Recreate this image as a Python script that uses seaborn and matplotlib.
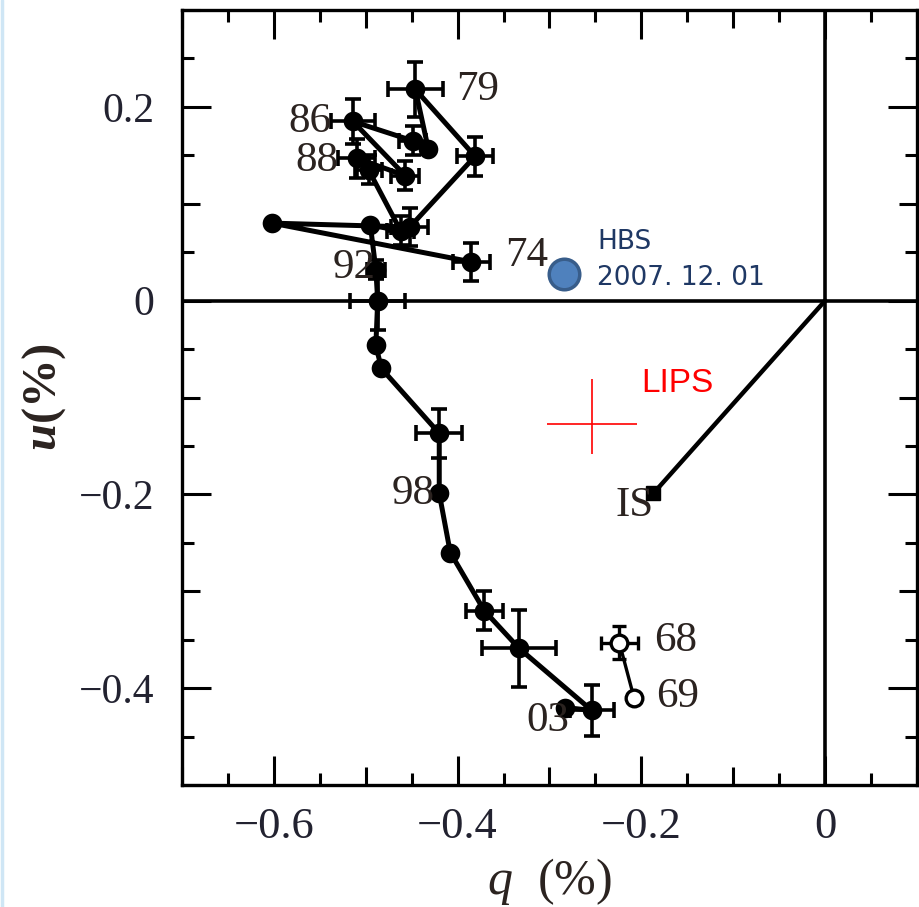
import numpy as np
import pandas as pd
import matplotlib
matplotlib.use("Agg")
import matplotlib.pyplot as plt
from matplotlib.lines import Line2D
import seaborn as sns

# ---------------- data ----------------
# main (filled) trajectory, q and u in %
path_q = [-0.385, -0.602, -0.452, -0.381, -0.446, -0.432, -0.449, -0.514, -0.457,
          -0.510, -0.497, -0.462, -0.495, -0.489, -0.487, -0.489, -0.483, -0.420,
          -0.420, -0.408, -0.371, -0.333, -0.254, -0.283]
path_u = [0.040, 0.080, 0.076, 0.149, 0.218, 0.157, 0.165, 0.185, 0.129,
          0.147, 0.135, 0.072, 0.078, 0.032, 0.000, -0.046, -0.070, -0.137,
          -0.199, -0.260, -0.320, -0.359, -0.423, -0.420]
path_qerr = [0.020, 0.0, 0.020, 0.020, 0.030, 0.0, 0.015, 0.024, 0.015,
             0.020, 0.015, 0.015, 0.0, 0.010, 0.030, 0.0, 0.0, 0.025,
             0.0, 0.0, 0.020, 0.040, 0.024, 0.0]
path_uerr = [0.020, 0.0, 0.020, 0.020, 0.028, 0.0, 0.015, 0.023, 0.015,
             0.020, 0.015, 0.015, 0.0, 0.010, 0.030, 0.0, 0.0, 0.025,
             0.0, 0.0, 0.020, 0.040, 0.026, 0.0]

# early (open) points 1968, 1969
open_q = [-0.224, -0.208]
open_u = [-0.353, -0.410]
open_qerr = [0.020, 0.0]
open_uerr = [0.017, 0.0]

# year labels
year_labels = ["79", "86", "88", "74", "92", "98", "68", "69", "03"]
year_q = [-0.402, -0.537, -0.530, -0.348, -0.489, -0.425, -0.186, -0.184, -0.278]
year_u = [0.218, 0.185, 0.144, 0.046, 0.034, -0.199, -0.351, -0.409, -0.434]
year_ha = ["left", "right", "right", "left", "right", "right", "left", "left", "right"]

# interstellar
is_q = [0.0, -0.187]
is_u = [0.0, -0.199]

# HBS observation
hbs_q = [-0.284]
hbs_u = [0.027]
hbs_text = ["HBS", "2007. 12. 01"]

# LIPS
lips_q = [-0.254]
lips_u = [-0.127]
lips_qerr = [0.049]
lips_uerr_low = [0.031]
lips_uerr_high = [0.046]

xtick_vals = [-0.6, -0.4, -0.2, 0.0]
xtick_labels = ["\u22120.6", "\u22120.4", "\u22120.2", "0"]
ytick_vals = [0.2, 0.0, -0.2, -0.4]
ytick_labels = ["0.2", "0", "\u22120.2", "\u22120.4"]

# ---------------- style ----------------
sns.set_theme(style="ticks")
plt.rcParams["font.family"] = ["Liberation Serif", "DejaVu Serif"]
plt.rcParams["mathtext.fontset"] = "custom"
plt.rcParams["mathtext.rm"] = "Liberation Serif"
plt.rcParams["mathtext.it"] = "Liberation Serif:italic"
plt.rcParams["mathtext.bf"] = "Liberation Serif:bold"
plt.rcParams["mathtext.bfit"] = "Liberation Serif:italic:bold"

fig = plt.figure(figsize=(9.2, 9.07), dpi=100)
fig.patch.set_facecolor("white")
ax = fig.add_axes([182 / 920, 1 - 785 / 907, (917 - 182) / 920, (785 - 10) / 907])

ax.set_xlim(-0.7, 0.1)
ax.set_ylim(-0.5, 0.3)

# reference axes lines
ax.axhline(0, color="black", lw=2.6, zorder=1)
ax.axvline(0, color="black", lw=2.6, zorder=1)

# interstellar line
df_is = pd.DataFrame({"q": is_q, "u": is_u})
sns.lineplot(data=df_is, x="q", y="u", sort=False, estimator=None, color="black",
             lw=3.2, ax=ax, zorder=2)
ax.plot(is_q[1:], is_u[1:], marker="s", ms=10, color="black", ls="none", zorder=3)

# main trajectory
df_path = pd.DataFrame({"q": path_q, "u": path_u})
sns.lineplot(data=df_path, x="q", y="u", sort=False, estimator=None, color="black",
             lw=3.6, ax=ax, zorder=3)
ax.errorbar(path_q, path_u, xerr=path_qerr, yerr=path_uerr, fmt="none",
            ecolor="black", elinewidth=2.6, capsize=6, capthick=2.6, zorder=3)
sns.scatterplot(data=df_path, x="q", y="u", color="black", s=200, edgecolor="black",
                linewidth=0, ax=ax, zorder=4)

# open points
df_open = pd.DataFrame({"q": open_q, "u": open_u})
sns.lineplot(data=df_open, x="q", y="u", sort=False, estimator=None, color="black",
             lw=2.4, ax=ax, zorder=3)
ax.errorbar(open_q, open_u, xerr=open_qerr, yerr=open_uerr, fmt="none",
            ecolor="black", elinewidth=2.4, capsize=5, capthick=2.4, zorder=3)
ax.plot(open_q, open_u, marker="o", ms=12, mfc="white", mec="black", mew=2.4,
        ls="none", zorder=4)

# year labels
for lab, q, u, ha in zip(year_labels, year_q, year_u, year_ha):
    ax.text(q, u, lab, ha=ha, va="center", fontsize=31, color="#2b2320", zorder=5)
ax.text(-0.187, -0.212, "IS", ha="right", va="center", fontsize=31,
        color="#2b2320", zorder=5)

# HBS
ax.plot(hbs_q, hbs_u, marker="o", ms=22, mfc="#4f81bd", mec="#385d8a", mew=2.5,
        ls="none", zorder=6)
ax.text(-0.248, 0.061, hbs_text[0], ha="left", va="center", fontsize=19,
        color="#1f3864", family="DejaVu Sans", zorder=6)
ax.text(-0.248, 0.023, hbs_text[1], ha="left", va="center", fontsize=19,
        color="#1f3864", family="DejaVu Sans", zorder=6)

# LIPS
ax.errorbar(lips_q, lips_u, xerr=lips_qerr, yerr=[lips_uerr_low, lips_uerr_high],
            fmt="none", ecolor="red", elinewidth=1.2, capsize=0, zorder=6)
ax.text(-0.200, -0.086, "LIPS", ha="left", va="center", fontsize=24, color="red",
        family="Liberation Sans", zorder=6)

# axes styling
for sp in ax.spines.values():
    sp.set_visible(True)
    sp.set_linewidth(2.4)
    sp.set_color("black")

ax.set_xticks(xtick_vals, xtick_labels)
ax.set_yticks(ytick_vals, ytick_labels)
ax.xaxis.set_minor_locator(matplotlib.ticker.MultipleLocator(0.05))
ax.yaxis.set_minor_locator(matplotlib.ticker.MultipleLocator(0.05))
ax.tick_params(which="both", direction="in", top=True, right=True, width=2.2,
               color="black")
ax.tick_params(which="major", length=21, pad=16)
ax.tick_params(which="minor", length=8.5)
ax.tick_params(axis="x", which="major", labelsize=32, labelcolor="#222230")
ax.tick_params(axis="y", which="major", labelsize=30, labelcolor="#222230", pad=20)

ax.set_xlabel(r"$q$  (%)", fontsize=36, labelpad=6, color="#2b2320")
ax.set_ylabel(r"$\mathbfit{u}$(%)", fontsize=35, color="#2b2320",
              fontweight="bold")
ax.yaxis.set_label_coords(-0.155, 0.5)

# medium ticks at odd multiples of 0.1
fig.canvas.draw()
for axis in (ax.xaxis, ax.yaxis):
    locs = axis.get_minorticklocs()
    ticks = axis.get_minor_ticks(len(locs))
    for t, loc in zip(ticks, locs):
        r = loc / 0.1
        if abs(r - round(r)) < 1e-6:
            t.tick1line.set_markersize(13)
            t.tick2line.set_markersize(13)

# thin light-blue border line on left edge
fig.add_artist(Line2D([0.002, 0.002], [0, 1], transform=fig.transFigure,
                      color="#cfe6f5", lw=2.5))

fig.savefig("out.png", dpi=100, facecolor="white")
